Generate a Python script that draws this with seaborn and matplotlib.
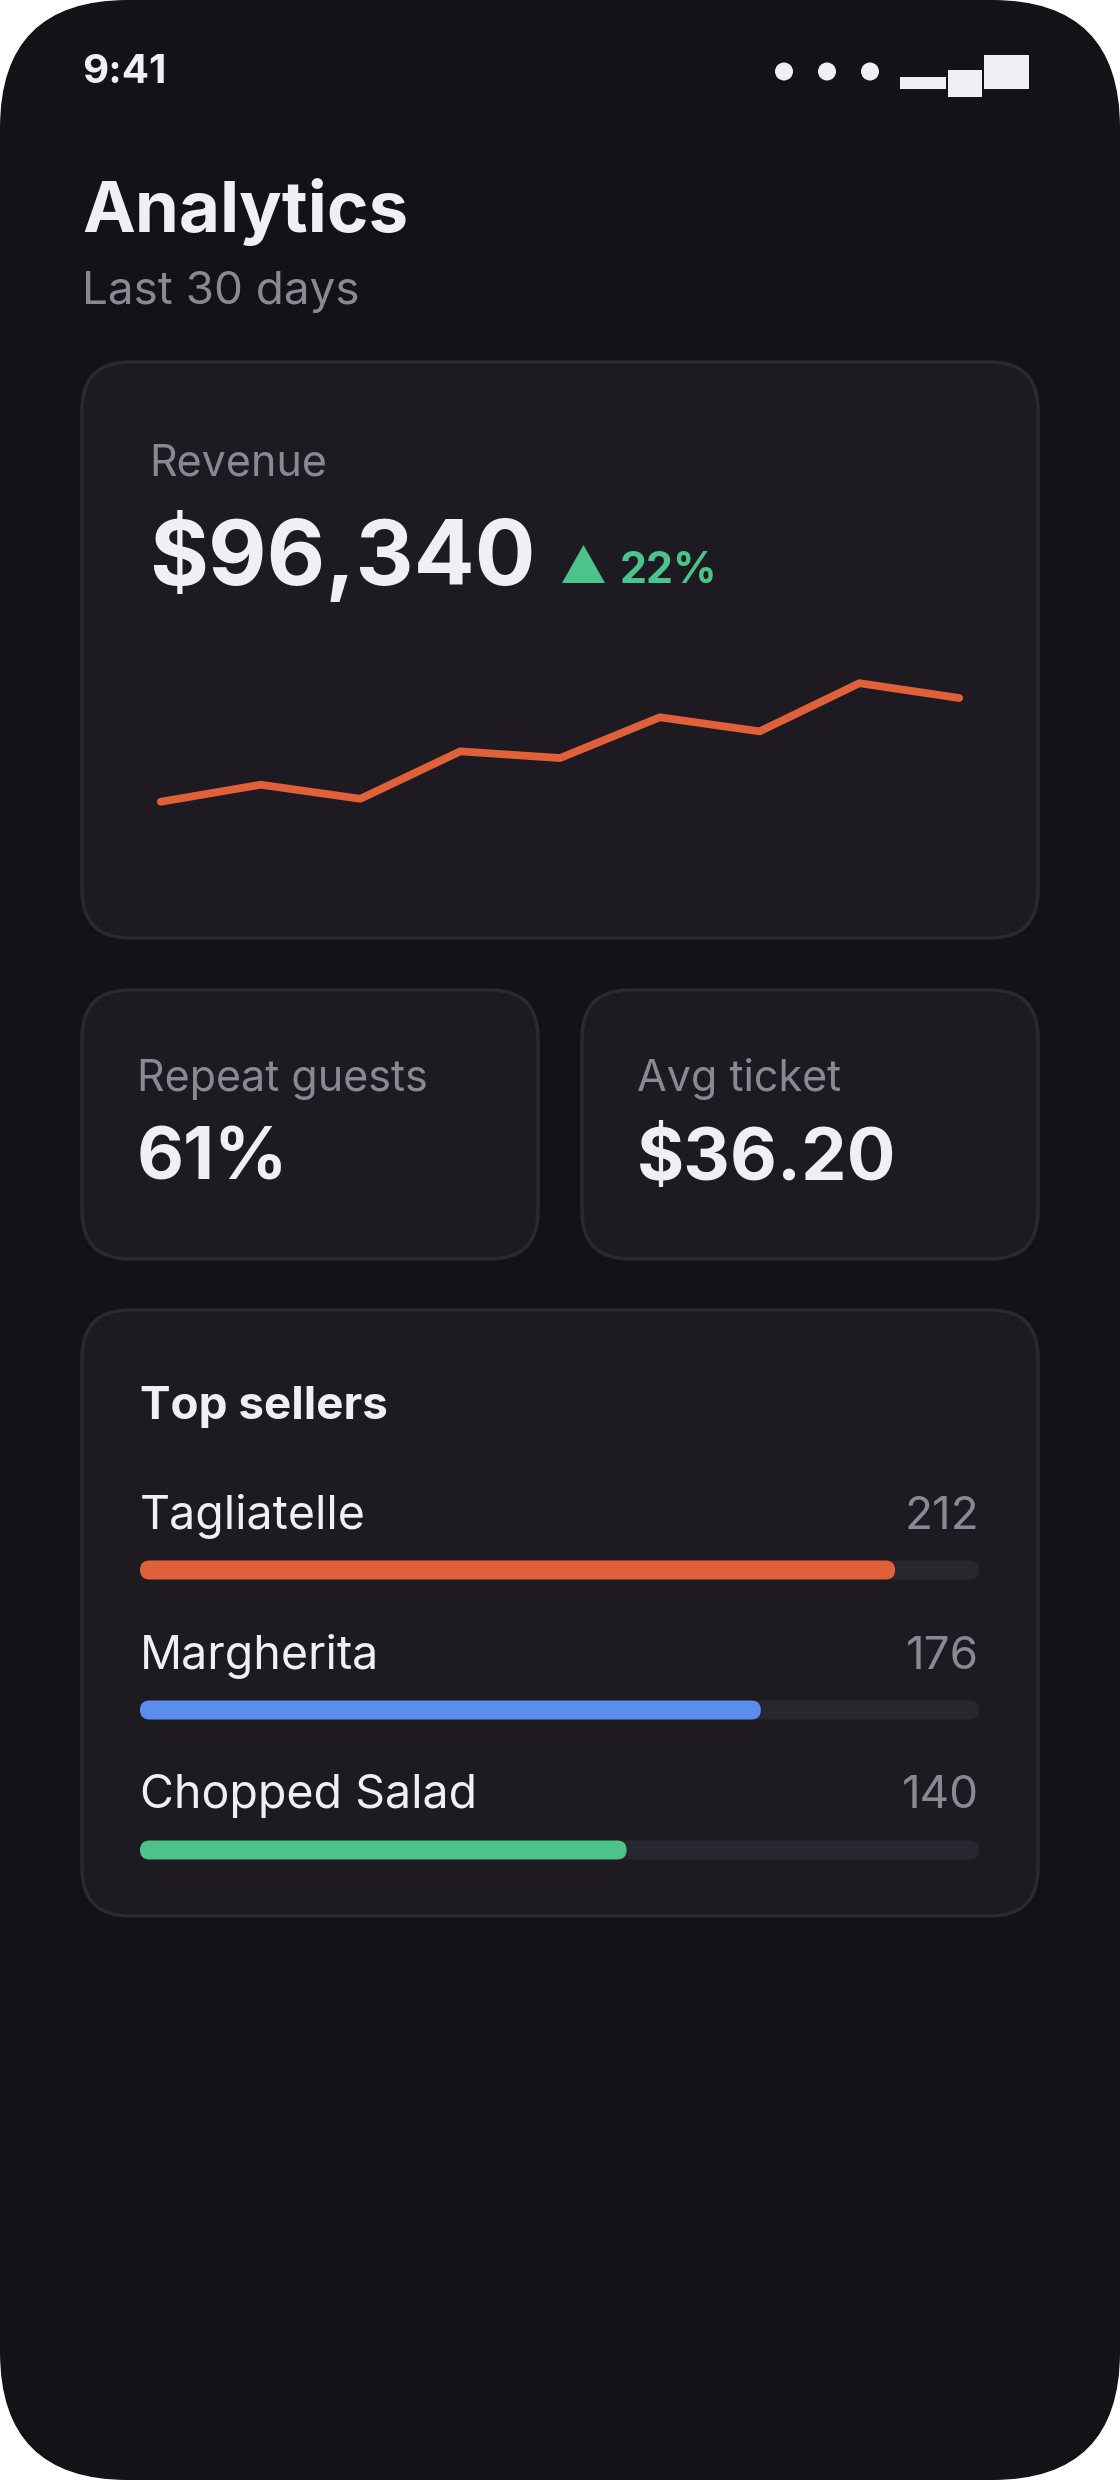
import matplotlib
matplotlib.use("Agg")
import matplotlib.pyplot as plt
from matplotlib.patches import FancyBboxPatch, Polygon, Circle, Rectangle
import seaborn as sns
import pandas as pd

# --- data ---
revenue_points = [2.40, 2.63, 2.44, 3.08, 2.99, 3.54, 3.35, 4.00, 3.80]
revenue_total = "$96,340"
revenue_change = "22%"
repeat_guests = "61%"
avg_ticket = "$36.20"
sellers = ["Tagliatelle", "Margherita", "Chopped Salad"]
seller_counts = [212, 176, 140]
seller_share = [90, 74, 58]
seller_colors = ["#E0603A", "#5B8DEF", "#4CC38A"]

BG = "#141217"
CARD = "#1D1B21"
EDGE = "#2B2930"
TRACK = "#28262E"
WHITE = "#F1EFF4"
GREY = "#8C8893"
GREEN = "#4CC38A"
ORANGE = "#E0603A"

W, H = 1120, 2480
sns.set_theme(style="white")
plt.rcParams["font.family"] = ["Inter", "DejaVu Sans"]

fig = plt.figure(figsize=(W / 100, H / 100), dpi=100, facecolor="white")

# full-size axes in pixel units for the phone chrome and cards
bg = fig.add_axes([0, 0, 1, 1])
bg.set_xlim(0, W)
bg.set_ylim(H, 0)
bg.axis("off")


def pane(x0, y0, x1, y1, r, face, edge=None, lw=0):
    p = FancyBboxPatch((x0 + r, y0 + r), (x1 - x0) - 2 * r, (y1 - y0) - 2 * r,
                       boxstyle=f"round,pad={r}", facecolor=face,
                       edgecolor=edge if edge else face, linewidth=lw)
    bg.add_patch(p)


def px_axes(x0, y0, x1, y1):
    return fig.add_axes([x0 / W, 1 - y1 / H, (x1 - x0) / W, (y1 - y0) / H])


pane(0, 0, W, H, 128, BG)

# status bar
bg.text(82, 83, "9:41", color=WHITE, fontsize=29, fontweight="bold")
for cx in [784, 827, 870]:
    bg.add_patch(Circle((cx, 71.5), 9, color=WHITE, lw=0))
bg.add_patch(Rectangle((900, 77), 46, 12, color=WHITE, lw=0))
bg.add_patch(Rectangle((948, 70), 34, 27, color=WHITE, lw=0))
bg.add_patch(Rectangle((984, 55), 45, 34, color=WHITE, lw=0))

# header
bg.text(82, 232, "Analytics", color=WHITE, fontsize=51, fontweight="bold")
bg.text(82, 304, "Last 30 days", color=GREY, fontsize=33)

# revenue card
pane(82, 362, 1038, 938, 48, CARD, EDGE, 2.5)
bg.text(149, 476, "Revenue", color=GREY, fontsize=31)
bg.text(149, 585, revenue_total, color=WHITE, fontsize=65, fontweight="bold")
bg.add_patch(Polygon([(562, 583), (605, 583), (583.5, 545)], color=GREEN, lw=0))
bg.text(620, 583, revenue_change, color=GREEN, fontsize=31, fontweight="bold")

ax_line = px_axes(140.84, 650, 979.2, 840)
trend = pd.DataFrame({"day": range(len(revenue_points)), "revenue": revenue_points})
sns.lineplot(data=trend, x="day", y="revenue", ax=ax_line, color=ORANGE, linewidth=5.6)
ax_line.set_xlim(-0.2, 8.2)
ax_line.set_ylim(1.884, 4.448)
ax_line.axis("off")

# small stat cards
pane(82, 990, 538, 1259, 48, CARD, EDGE, 2.5)
pane(582, 990, 1038, 1259, 48, CARD, EDGE, 2.5)
bg.text(136.6, 1091, "Repeat guests", color=GREY, fontsize=31)
bg.text(136.6, 1180, repeat_guests, color=WHITE, fontsize=52, fontweight="bold")
bg.text(637, 1091, "Avg ticket", color=GREY, fontsize=31)
bg.text(637, 1180, avg_ticket, color=WHITE, fontsize=52, fontweight="bold")

# top sellers card
pane(82, 1310, 1038, 1916, 48, CARD, EDGE, 2.5)
bg.text(140, 1419, "Top sellers", color=WHITE, fontsize=33, fontweight="bold")
name_base = [1529, 1669, 1808]
for name, n, yb in zip(sellers, seller_counts, name_base):
    bg.text(140, yb, name, color=WHITE, fontsize=33.5)
    bg.text(979, yb, str(n), color=GREY, fontsize=33, ha="right")

ax_bar = px_axes(140, 1500, 979, 1920)
bar_h = 19 / 140
sellers_df = pd.DataFrame({"item": sellers, "share": seller_share, "full": [100] * len(sellers)})
sns.barplot(data=sellers_df, y="item", x="full", color=TRACK, saturation=1,
            width=bar_h, ax=ax_bar)
sns.barplot(data=sellers_df, y="item", x="share", hue="item", palette=seller_colors,
            saturation=1, width=bar_h, legend=False, ax=ax_bar)
ax_bar.set_xlim(0, 100)
ax_bar.set_ylim(2.5, -0.5)
ax_bar.axis("off")

# turn the flat bars into pills
r_x = 9.5 / (839 / 100)
aspect = bar_h / (2 * r_x)
for p in list(ax_bar.patches):
    x0, y0, w, h = p.get_x(), p.get_y(), p.get_width(), p.get_height()
    pill = FancyBboxPatch((x0, y0), w, h, boxstyle=f"round,pad=0,rounding_size={r_x}",
                          mutation_aspect=aspect, facecolor=p.get_facecolor(),
                          edgecolor="none", zorder=p.get_zorder())
    p.remove()
    ax_bar.add_patch(pill)

fig.savefig("out.png", dpi=100, facecolor="white")
